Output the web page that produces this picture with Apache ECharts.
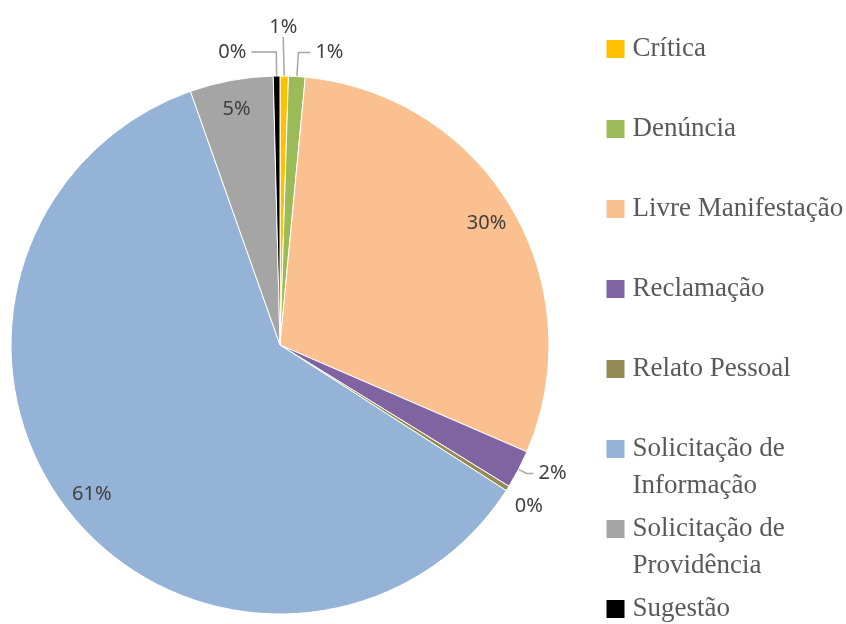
<!DOCTYPE html>
<html>
<head>
<meta charset="utf-8">
<script src="https://cdn.jsdelivr.net/npm/echarts@6/dist/echarts.min.js"></script>
<style>
  html, body { margin: 0; padding: 0; background: #fff; }
  #chart { width: 846px; height: 624px; }
</style>
</head>
<body>
<div id="chart"></div>
<script>
// tipos de manifestação e percentuais
const names = ['Crítica', 'Denúncia', 'Livre Manifestação', 'Reclamação', 'Relato Pessoal',
  'Solicitação de Informação', 'Solicitação de Providência', 'Sugestão']
const values = [0.5, 1.0, 30.0, 2.3, 0.3, 60.5, 5.0, 0.4]
const colors = ['#FFC000', '#9BBB59', '#FAC090', '#8064A2', '#948A54', '#95B3D7', '#A5A5A5', '#000000']

const chart = echarts.init(document.getElementById('chart'))

const cx = 280
const cy = 345
const R = 269
const bigSlice = 4 // acima disso o rótulo vai dentro da fatia
const legendLine = 37

function pct(p) {
  return Math.round(p.percent) + '%'
}
// quebra como no Excel; a linha vazia no início deixa a 1a linha alinhada ao ícone
function legendName(n) {
  return n.indexOf('Solicitação de ') === 0 ? '\n' + n.replace('Solicitação de ', 'Solicitação de\n') : n
}

// uma legenda por item, para manter espaçamento fixo como no Excel
const legends = names.map((n, i) => ({
  data: [n],
  orient: 'vertical',
  left: 604.5,
  top: 30.5 + i * 80 - (legendName(n).charAt(0) === '\n' ? legendLine : 0),
  padding: 0,
  icon: 'rect',
  itemWidth: 20,
  itemHeight: 20,
  formatter: legendName,
  textStyle: {
    fontFamily: 'Liberation Serif',
    fontSize: 27,
    color: '#595959',
    lineHeight: legendLine,
    padding: [0, 0, 0, 2]
  }
}))

// comprimentos das linhas de chamada dos rótulos pequenos
const lineLen = { 'Crítica': [14, 0], 'Denúncia': [24, 12], 'Reclamação': [9, 7], 'Relato Pessoal': [12, 0], 'Sugestão': [24, 25] }

const mainData = names.map((n, i) => {
  const big = values[i] > bigSlice
  const ll = lineLen[n] || [14, 10]
  return {
    name: n,
    value: values[i],
    itemStyle: { color: colors[i] },
    label: { show: !big },
    labelLine: { show: !big && n !== 'Relato Pessoal', length: ll[0], length2: ll[1] }
  }
})

const ghostData = names.map((n, i) => ({
  name: n,
  value: values[i],
  label: { show: values[i] > bigSlice }
}))

chart.setOption({
  animation: false,
  legend: legends,
  series: [
    {
      name: 'Manifestações',
      type: 'pie',
      center: [cx, cy],
      radius: [0, R],
      startAngle: 90,
      avoidLabelOverlap: false,
      itemStyle: { borderColor: '#fff', borderWidth: 1 },
      label: {
        formatter: pct,
        fontFamily: 'Noto Sans',
        fontSize: 20,
        color: '#404040'
      },
      labelLine: {
        lineStyle: { color: '#A6A6A6', width: 1.5 }
      },
      labelLayout: function (p) {
        const pts = p.labelLinePoints
        if (p.dataIndex === names.indexOf('Crítica') && pts) {
          // rótulo centrado acima da fatia, como no original
          return { x: pts[0][0] - 1, y: pts[0][1] - 49, align: 'center', verticalAlign: 'middle' }
        }
        if (p.dataIndex === names.indexOf('Relato Pessoal')) {
          return { dx: -8, dy: 11 }
        }
      },
      data: mainData
    },
    {
      // anel transparente só para posicionar os rótulos internos perto da borda
      type: 'pie',
      silent: true,
      center: [cx, cy],
      radius: [205, R],
      startAngle: 90,
      itemStyle: { color: 'rgba(0,0,0,0)' },
      label: {
        position: 'inside',
        formatter: pct,
        fontFamily: 'Noto Sans',
        fontSize: 20,
        color: '#404040'
      },
      labelLine: { show: false },
      data: ghostData
    }
  ]
})
</script>
</body>
</html>
